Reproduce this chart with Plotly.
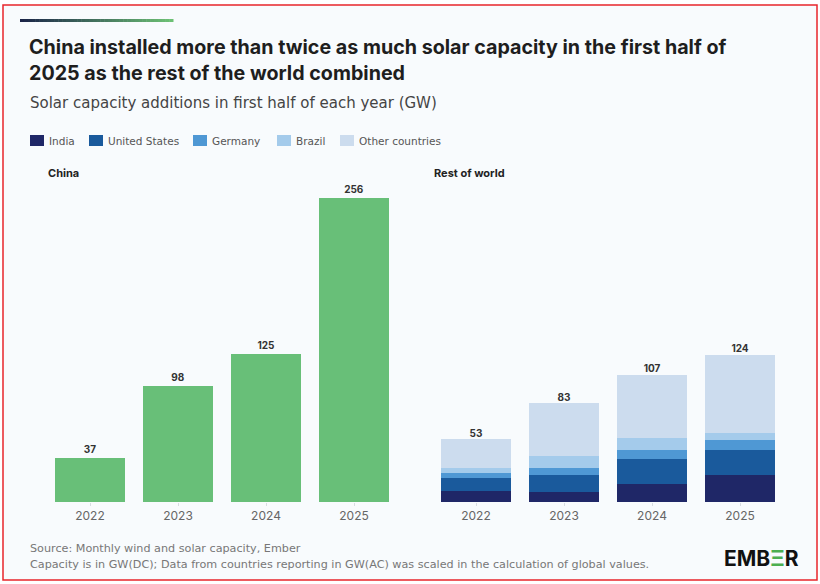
import plotly.graph_objects as go

W, H = 820, 584

years = ["2022", "2023", "2024", "2025"]
china = [37, 98, 125, 256]

row_series = ["India", "United States", "Germany", "Brazil", "Other countries"]
india = [9, 8, 15, 23]
united_states = [11, 14.5, 21, 21]
germany = [4, 6.5, 8, 8]
brazil = [5, 10, 10, 6.5]
other = [24, 44.5, 53, 65.5]
row_totals = [53, 83, 107, 124]

row_values = [india, united_states, germany, brazil, other]
row_colors = ["#1f2767", "#1a5a9c", "#4f98d4", "#a4cbeb", "#ccdcee"]
green = "#68bf78"

FONT = "Inter, Lato, sans-serif"
WIDE = "DejaVu Sans, Inter, sans-serif"
BG = "#f8fbfd"


def px(x):
    return x / W


def py(y):
    return 1 - y / H


fig = go.Figure()

fig.add_trace(go.Bar(
    x=years, y=china, marker=dict(color=green, line=dict(width=0)),
    text=[str(v) for v in china], textposition="outside",
    textfont=dict(family=FONT, size=10, color="#333333", weight="bold"),
    cliponaxis=False, xaxis="x", yaxis="y", showlegend=False, hoverinfo="skip",
))

for name, vals, col in zip(row_series, row_values, row_colors):
    fig.add_trace(go.Bar(
        x=years, y=vals, name=name, marker=dict(color=col, line=dict(width=0)),
        xaxis="x2", yaxis="y2", showlegend=False, hoverinfo="skip",
    ))

fig.add_trace(go.Scatter(
    x=years, y=row_totals, mode="text", text=[str(v) for v in row_totals],
    textposition="top center",
    textfont=dict(family=FONT, size=10, color="#333333", weight="bold"),
    xaxis="x2", yaxis="y2", showlegend=False, hoverinfo="skip", cliponaxis=False,
))

ymax = 270
ydom = [py(502), py(502 - ymax * 1.1875)]
xax = dict(showgrid=False, zeroline=False, showline=False, ticks="outside",
           ticklen=3, tickcolor="#d8dde2", tickfont=dict(family=FONT, size=12, color="#666666"))
yax = dict(range=[0, ymax], showgrid=False, zeroline=False, showticklabels=False, showline=False)

fig.update_layout(
    width=W, height=H, margin=dict(l=0, r=0, t=0, b=0),
    paper_bgcolor="white", plot_bgcolor="rgba(0,0,0,0)",
    barmode="stack", bargap=0.2045,
    xaxis=dict(domain=[px(46), px(398)], anchor="y", **xax),
    yaxis=dict(domain=ydom, anchor="x", **yax),
    xaxis2=dict(domain=[px(432), px(784)], anchor="y2", **xax),
    yaxis2=dict(domain=ydom, anchor="x2", **yax),
    font=dict(family=FONT),
)

shapes = []
# background panel with red frame
shapes.append(dict(type="rect", xref="paper", yref="paper", x0=px(3), x1=px(817), y0=py(580), y1=py(5),
                   fillcolor=BG, line=dict(color="#e8262b", width=1.5), layer="below"))
# gradient accent line
n = 40
c0 = (0x1b, 0x25, 0x48)
c1 = (0x6c, 0xc0, 0x74)
x_start, x_end = 20, 173
for i in range(n):
    t = i / (n - 1)
    c = tuple(int(round(c0[k] + (c1[k] - c0[k]) * t)) for k in range(3))
    xa = x_start + (x_end - x_start) * i / n
    xb = x_start + (x_end - x_start) * (i + 1) / n + 0.5
    shapes.append(dict(type="rect", xref="paper", yref="paper", x0=px(xa), x1=px(xb),
                       y0=py(22), y1=py(19), fillcolor="rgb(%d,%d,%d)" % c, line=dict(width=0), layer="below"))

annotations = []


def txt(x, y, s, size, color="#222222", bold=False, anchor="left", family=FONT):
    annotations.append(dict(xref="paper", yref="paper", x=px(x), y=py(y), text=s, showarrow=False,
                            xanchor=anchor, yanchor="middle",
                            font=dict(family=family, size=size, color=color, weight="bold" if bold else "normal")))


txt(27, 47, "China installed more than twice as much solar capacity in the first half of", 19.7, "#1e1e1e", True)
txt(27, 73, "2025 as the rest of the world combined", 19.7, "#1e1e1e", True)
txt(28, 103, "Solar capacity additions in first half of each year (GW)", 15, "#444444", family=WIDE)

# legend
leg_x = [30, 89, 193, 277, 340]
for name, col, lx in zip(row_series, row_colors, leg_x):
    shapes.append(dict(type="rect", xref="paper", yref="paper", x0=px(lx), x1=px(lx + 14),
                       y0=py(146), y1=py(135), fillcolor=col, line=dict(width=0)))
    txt(lx + 17, 141, name, 10.5, "#555555", family=WIDE)

txt(46, 173, "China", 11, "#222222", True)
txt(432, 173, "Rest of world", 11, "#222222", True)

txt(28, 548, "Source: Monthly wind and solar capacity, Ember", 11.2, "#777777", family=WIDE)
txt(28, 564, "Capacity is in GW(DC); Data from countries reporting in GW(AC) was scaled in the calculation of global values.", 11.2, "#777777", family=WIDE)

txt(801, 558, "EMB<span style='color:#4caf50'>Ξ</span>R", 21, "#111111", True, anchor="right")

fig.update_layout(shapes=shapes, annotations=annotations)
fig.write_html("out.html")
